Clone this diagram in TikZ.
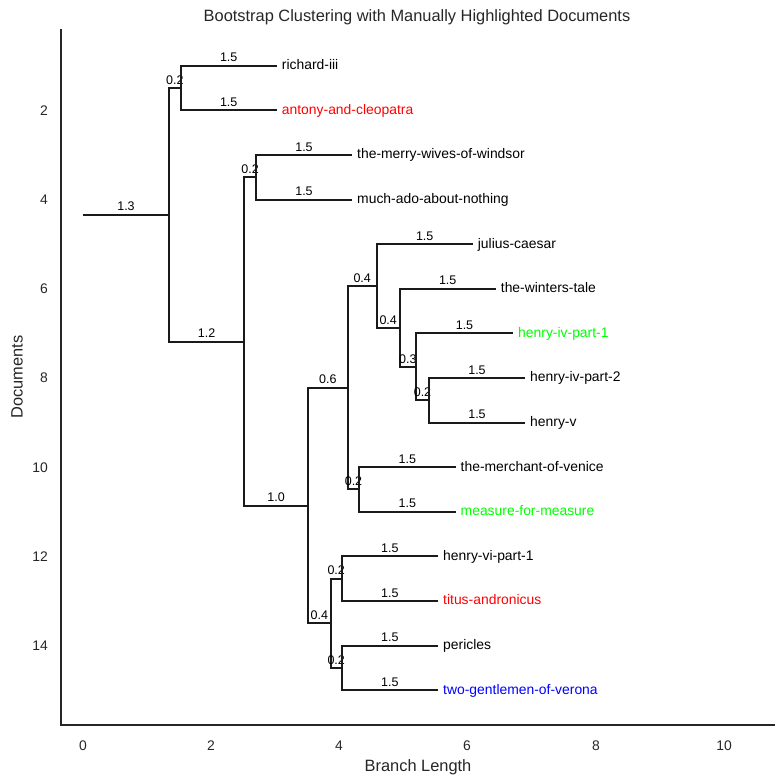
\documentclass[tikz,border=0pt]{standalone}
\usepackage{fontspec}
\setmainfont{Liberation Sans}
\definecolor{ink}{HTML}{262626}
\definecolor{treeink}{HTML}{1A1A1A}
\definecolor{hlred}{HTML}{FF0000}
\definecolor{hlgreen}{HTML}{00FF00}
\definecolor{hlblue}{HTML}{0000FF}
\begin{document}
\begin{tikzpicture}[x=1pt,y=-1pt,
  branch/.style={draw=treeink, line width=2pt},
  blabel/.style={font=\fontsize{12.5}{14}\selectfont, anchor=base, yshift=3.8pt, inner sep=0pt, text=black},
  leaf/.style={anchor=west, inner xsep=5pt, inner ysep=0pt, text height=10.5pt, text depth=2.5pt, font=\fontsize{13.9}{16}\selectfont, text=black},
  tick/.style={font=\fontsize{13.9}{16}\selectfont, text=ink, inner sep=0pt},
  axlabel/.style={font=\fontsize{16.4}{19}\selectfont, text=ink, inner sep=0pt},
  spine/.style={draw=ink, line width=1.8pt}
]
\useasboundingbox (0,0) rectangle (784,784);

% title and axes
\node[axlabel, anchor=base] (title) at (417,22) {Bootstrap Clustering with Manually Highlighted Documents};
\coordinate (spinetop) at (61,29);
\coordinate (spinecorner) at (61,725);
\coordinate (spineright) at (775,725);
\draw[spine] (spinetop) -- (spinecorner) -- (spineright);
\node[axlabel, anchor=base] (xlab) at (418,771.5) {Branch Length};
\node[axlabel, rotate=90] (ylab) at (17,377) {Documents};

\foreach \v/\px in {0/83,2/211,4/339,6/467,8/596,10/724}
  \node[tick, anchor=base] (xt\v) at (\px,750) {\v};
\foreach \v in {2,4,...,14}
  \node[tick, anchor=base east] (yt\v) at (48,{21.1+44.6*\v+5}) {\v};

% tree coordinates
\coordinate (r0) at (83,214.5);
\coordinate (A) at (169,214.5);
\coordinate (B) at (180.7,88);
\coordinate (C) at (244.3,341.6);
\coordinate (D) at (256,177.2);
\coordinate (E) at (308,505.6);
\coordinate (F) at (347.7,387.7);
\coordinate (G) at (330.7,623.2);
\coordinate (H) at (376.7,286);
\coordinate (I) at (359.3,489.4);
\coordinate (J) at (399.7,327.8);
\coordinate (K) at (416,366.8);
\coordinate (L) at (429,400.2);
\coordinate (M) at (341.7,578.6);
\coordinate (N) at (341.7,667.8);

% leaves
\node[leaf] (richard) at (276.7,65.7) {richard-iii};
\node[leaf, text=hlred] (antony) at (276.7,110.3) {antony-and-cleopatra};
\node[leaf] (merry) at (352,154.9) {the-merry-wives-of-windsor};
\node[leaf] (much) at (352,199.5) {much-ado-about-nothing};
\node[leaf] (julius) at (472.7,244.1) {julius-caesar};
\node[leaf] (winters) at (495.7,288.7) {the-winters-tale};
\node[leaf, text=hlgreen] (hivone) at (513,333.3) {henry-iv-part-1};
\node[leaf] (hivtwo) at (525,377.9) {henry-iv-part-2};
\node[leaf] (hv) at (525,422.5) {henry-v};
\node[leaf] (merchant) at (455.5,467.1) {the-merchant-of-venice};
\node[leaf, text=hlgreen] (measure) at (455.5,511.7) {measure-for-measure};
\node[leaf] (hvi) at (438,556.3) {henry-vi-part-1};
\node[leaf, text=hlred] (titus) at (438,600.9) {titus-andronicus};
\node[leaf] (pericles) at (438,645.5) {pericles};
\node[leaf, text=hlblue] (twogent) at (438,690.1) {two-gentlemen-of-verona};

% branches
\draw[branch] (r0) -- node[blabel, pos=0.5] {1.3} (A);
\draw[branch] (A) |- node[blabel, pos=0.75] {0.2} (B);
\draw[branch] (A) |- node[blabel, pos=0.75] {1.2} (C);
\draw[branch] (B) |- node[blabel, pos=0.75] {1.5} (richard.west);
\draw[branch] (B) |- node[blabel, pos=0.75] {1.5} (antony.west);
\draw[branch] (C) |- node[blabel, pos=0.75] {0.2} (D);
\draw[branch] (C) |- node[blabel, pos=0.75] {1.0} (E);
\draw[branch] (D) |- node[blabel, pos=0.75] {1.5} (merry.west);
\draw[branch] (D) |- node[blabel, pos=0.75] {1.5} (much.west);
\draw[branch] (E) |- node[blabel, pos=0.75] {0.6} (F);
\draw[branch] (E) |- node[blabel, pos=0.75] {0.4} (G);
\draw[branch] (F) |- node[blabel, pos=0.75] {0.4} (H);
\draw[branch] (F) |- node[blabel, pos=0.75] {0.2} (I);
\draw[branch] (H) |- node[blabel, pos=0.75] {1.5} (julius.west);
\draw[branch] (H) |- node[blabel, pos=0.75] {0.4} (J);
\draw[branch] (J) |- node[blabel, pos=0.75] {1.5} (winters.west);
\draw[branch] (J) |- node[blabel, pos=0.75] {0.3} (K);
\draw[branch] (K) |- node[blabel, pos=0.75] {1.5} (hivone.west);
\draw[branch] (K) |- node[blabel, pos=0.75] {0.2} (L);
\draw[branch] (L) |- node[blabel, pos=0.75] {1.5} (hivtwo.west);
\draw[branch] (L) |- node[blabel, pos=0.75] {1.5} (hv.west);
\draw[branch] (I) |- node[blabel, pos=0.75] {1.5} (merchant.west);
\draw[branch] (I) |- node[blabel, pos=0.75] {1.5} (measure.west);
\draw[branch] (G) |- node[blabel, pos=0.75] {0.2} (M);
\draw[branch] (G) |- node[blabel, pos=0.75] {0.2} (N);
\draw[branch] (M) |- node[blabel, pos=0.75] {1.5} (hvi.west);
\draw[branch] (M) |- node[blabel, pos=0.75] {1.5} (titus.west);
\draw[branch] (N) |- node[blabel, pos=0.75] {1.5} (pericles.west);
\draw[branch] (N) |- node[blabel, pos=0.75] {1.5} (twogent.west);
\end{tikzpicture}
\end{document}
